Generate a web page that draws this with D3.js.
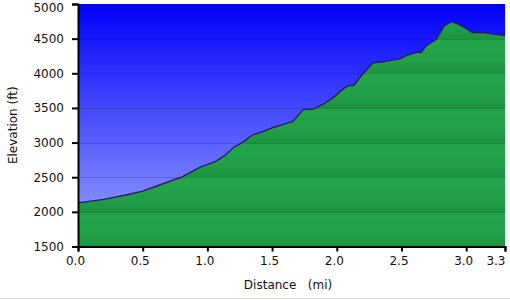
<!DOCTYPE html>
<html>
<head>
<meta charset="utf-8">
<title>Elevation profile</title>
<style>
  body { margin: 0; background: #fff; }
  text { font-family: "DejaVu Sans", Verdana, sans-serif; }
</style>
</head>
<body>
<script src="https://cdn.jsdelivr.net/npm/d3@7/dist/d3.min.js"></script>
<script>
var w = 510, h = 300;
var margin = {left: 78, right: 5, top: 4, bottom: 54};

// profile (miles, feet)
var distance = [0, 0.2, 0.36, 0.5, 0.62, 0.75, 0.8, 0.94, 1.06, 1.14, 1.2, 1.28, 1.35, 1.43,
    1.51, 1.6, 1.66, 1.74, 1.82, 1.9, 1.97, 2.05, 2.09, 2.13, 2.2, 2.28, 2.36, 2.43, 2.49,
    2.54, 2.62, 2.65, 2.69, 2.77, 2.83, 2.885, 2.92, 2.97, 3.0, 3.05, 3.13, 3.2, 3.29];
var elevation = [2130, 2180, 2240, 2300, 2380, 2468, 2500, 2643, 2724, 2821, 2925, 3014, 3112, 3160,
    3218, 3270, 3305, 3475, 3485, 3560, 3645, 3775, 3823, 3823, 3990, 4153, 4167, 4190, 4211,
    4259, 4307, 4298, 4394, 4491, 4684, 4742, 4723, 4680, 4646, 4588, 4588, 4570, 4549];

var xTicks = [0, 0.5, 1.0, 1.5, 2.0, 2.5, 3.0, 3.3];
var yTicks = [1500, 2000, 2500, 3000, 3500, 4000, 4500, 5000];

var points = distance.map(function (d, i) { return {d: d, e: elevation[i]}; });

var x = d3.scaleLinear().domain([0, 3.3]).range([margin.left, w - margin.right]);
var y = d3.scaleLinear().domain([1500, 5000]).range([h - margin.bottom + 0.5, margin.top]);

var svg = d3.select('body').append('svg')
    .attr('width', w)
    .attr('height', h);

var defs = svg.append('defs');

var sky = defs.append('linearGradient')
    .attr('id', 'sky')
    .attr('gradientUnits', 'userSpaceOnUse')
    .attr('x1', 0).attr('y1', y(5000))
    .attr('x2', 0).attr('y2', y(1500));
sky.append('stop').attr('offset', 0).attr('stop-color', '#0000fa');
sky.append('stop').attr('offset', 1).attr('stop-color', '#a0a8ff');

// each grid band: a bit lighter at its top, darker at its bottom
var grass = defs.append('linearGradient')
    .attr('id', 'grass')
    .attr('gradientUnits', 'userSpaceOnUse')
    .attr('spreadMethod', 'repeat')
    .attr('x1', 0).attr('y1', y(5000))
    .attr('x2', 0).attr('y2', y(4500));
grass.append('stop').attr('offset', 0).attr('stop-color', '#23a54b');
grass.append('stop').attr('offset', 0.6).attr('stop-color', '#21a047');
grass.append('stop').attr('offset', 1).attr('stop-color', '#1d9341');

// sky background
svg.append('rect')
    .attr('x', x(0))
    .attr('y', y(5000))
    .attr('width', x(3.3) - x(0))
    .attr('height', y(1500) - y(5000))
    .attr('fill', 'url(#sky)');

var area = d3.area()
    .x(function (p) { return x(p.d); })
    .y0(y(1500))
    .y1(function (p) { return y(p.e); });

var line = d3.line()
    .x(function (p) { return x(p.d); })
    .y(function (p) { return y(p.e); });

var profile = points.concat([{d: 3.3, e: elevation[elevation.length - 1] - 5}]);

svg.append('path')
    .datum(profile)
    .attr('d', area)
    .attr('fill', 'url(#grass)');

// grid lines
svg.selectAll('.grid')
    .data(yTicks.slice(1, -1))
    .enter()
    .append('line')
    .attr('class', 'grid')
    .attr('x1', x(0))
    .attr('x2', x(3.3))
    .attr('y1', function (d) { return Math.round(y(d)) + 0.5; })
    .attr('y2', function (d) { return Math.round(y(d)) + 0.5; })
    .attr('stroke', '#000')
    .attr('stroke-opacity', 0.16)
    .attr('stroke-width', 1.2);

svg.append('path')
    .datum(profile)
    .attr('d', line)
    .attr('fill', 'none')
    .attr('stroke', '#1c2a3a')
    .attr('stroke-width', 1.4)
    .attr('stroke-linejoin', 'round');

// pale right edge
svg.append('line')
    .attr('x1', x(3.3) + 0.5).attr('x2', x(3.3) + 0.5)
    .attr('y1', y(5000)).attr('y2', y(1500))
    .attr('stroke', '#d8e6ff')
    .attr('stroke-width', 1);

// axes
var yAxis = d3.axisLeft(y)
    .tickValues(yTicks)
    .tickSize(6)
    .tickPadding(8)
    .tickFormat(d3.format('d'));

var xAxis = d3.axisBottom(x)
    .tickValues(xTicks)
    .tickSize(5)
    .tickPadding(5)
    .tickFormat(d3.format('.1f'));

var gy = svg.append('g')
    .attr('transform', 'translate(' + x(0) + ',0)')
    .call(yAxis);

var gx = svg.append('g')
    .attr('transform', 'translate(0,' + y(1500) + ')')
    .call(xAxis);

[gx, gy].forEach(function (g) {
    g.select('.domain').attr('stroke', '#000').attr('stroke-width', 2);
    g.selectAll('.tick line').attr('stroke', '#000').attr('stroke-width', 2);
    g.selectAll('.tick text')
        .attr('fill', '#111')
        .style('font-size', '12px')
        .style('font-family', '"DejaVu Sans", Verdana, sans-serif');
});

// x labels sit a little left of their ticks; last one ends at its tick
gx.selectAll('.tick text')
    .attr('x', -3)
    .filter(function (d) { return d === 3.3; })
    .attr('text-anchor', 'end')
    .attr('x', 0);

// top label pushed down so it stays inside the picture
gy.selectAll('.tick text')
    .filter(function (d) { return d === 5000; })
    .attr('dy', '0.6em');

svg.append('text')
    .attr('transform', 'translate(17,' + ((y(5000) + y(1500)) / 2) + ') rotate(-90)')
    .attr('text-anchor', 'middle')
    .attr('fill', '#111')
    .style('font-size', '12px')
    .text('Elevation (ft)');

svg.append('text')
    .attr('x', 288)
    .attr('y', 289)
    .attr('text-anchor', 'middle')
    .attr('fill', '#111')
    .style('font-size', '12px')
    .style('white-space', 'pre')
    .text('Distance   (mi)');

svg.append('line')
    .attr('x1', 0).attr('x2', w)
    .attr('y1', 298.5).attr('y2', 298.5)
    .attr('stroke', '#e2e2e2');
</script>
</body>
</html>
